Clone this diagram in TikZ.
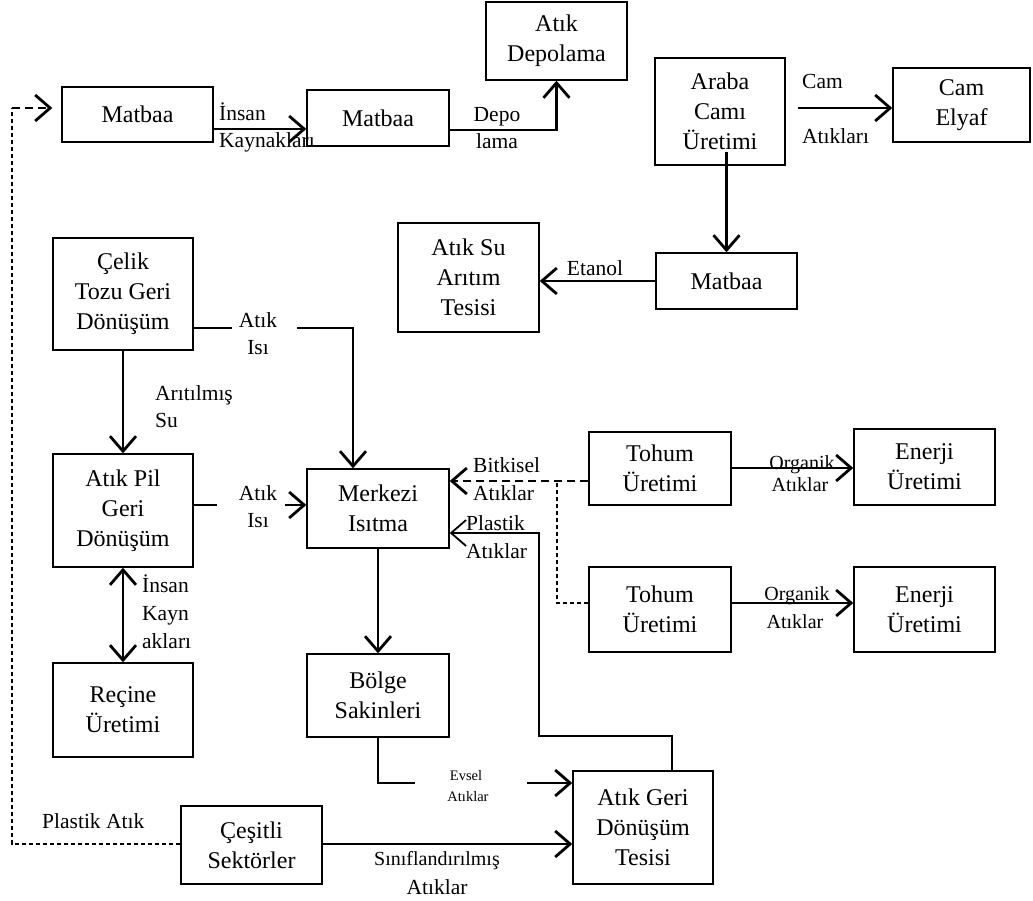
\documentclass[tikz,border=0pt]{standalone}
\usepackage{fontspec}
\setmainfont{Liberation Serif}
\usetikzlibrary{arrows.meta}
\begin{document}
\begin{tikzpicture}[x=1pt,y=-1pt,
  box/.style={draw,line width=1.4pt,inner sep=0pt,align=center,
    font=\fontsize{24}{30}\selectfont},
  wh/.style 2 args={minimum width=#1pt,minimum height=#2pt},
  lbl/.style={inner sep=0pt,font=\fontsize{21.5}{27}\selectfont},
  slbl/.style={inner sep=0pt,font=\fontsize{20}{24}\selectfont},
  tlbl/.style={inner sep=0pt,font=\fontsize{14.5}{18}\selectfont},
  tip/.tip={Straight Barb[length=15pt,width=26pt]},
  arr/.style={line width=2.8pt,-tip},
  darr/.style={line width=2.8pt,tip-tip},
  seg/.style={line width=1.7pt},
  thinarr/.style={line width=1.8pt,-tip},
  dasharr/.style={line width=2.8pt,dash pattern=on 8pt off 5pt,-tip},
  dashthin/.style={line width=1.1pt,dash pattern=on 4pt off 3pt}
]
\useasboundingbox (0,0) rectangle (1033,900);

% boxes
\node[box,wh={151}{55}]  (mat1)    at (137.5,114.5) {Matbaa};
\node[box,wh={142}{56}]  (mat2)    at (378,118)     {Matbaa};
\node[box,wh={141}{78}]  (depo)    at (556.5,41)    {Atık\\Depolama};
\node[box,wh={130}{107}] (araba)   at (720,111.5)   {Araba\\Camı\\Üretimi};
\node[box,wh={137}{74}]  (elyaf)   at (961.5,105)   {Cam\\Elyaf};
\node[box,wh={141}{56}]  (mat3)    at (726.5,281)   {Matbaa};
\node[box,wh={141}{109}] (su)      at (468.5,277.5) {Atık Su\\Arıtım\\Tesisi};
\node[box,wh={140}{112}] (celik)   at (123,294)     {Çelik\\Tozu Geri\\Dönüşüm};
\node[box,wh={140}{113}] (pil)     at (123,510.5)   {Atık Pil\\Geri\\Dönüşüm};
\node[box,wh={140}{94}]  (recine)  at (123,710)     {Reçine\\Üretimi};
\node[box,wh={142}{79}]  (merkezi) at (378,508.5)   {Merkezi\\Isıtma};
\node[box,wh={142}{73}]  (tohum1)  at (660,468.5)   {Tohum\\Üretimi};
\node[box,wh={141}{76}]  (enerji1) at (924.5,467)   {Enerji\\Üretimi};
\node[box,wh={142}{85}]  (tohum2)  at (660,609.5)   {Tohum\\Üretimi};
\node[box,wh={141}{85}]  (enerji2) at (924.5,609.5) {Enerji\\Üretimi};
\node[box,wh={142}{83}]  (bolge)   at (378,695.5)   {Bölge\\Sakinleri};
\node[box,wh={140}{113}] (agd)     at (643,827.5)   {Atık Geri\\Dönüşüm\\Tesisi};
\node[box,wh={141}{78}]  (ces)     at (251.5,845)   {Çeşitli\\Sektörler};

% top row
\draw[arr] (mat1.east |- 0,129) -- (mat2.west |- 0,129);
\node[lbl,anchor=base west] (l1a) at (219,120) {İnsan};
\node[lbl,anchor=base west] (l1b) at (219,147) {Kaynakları};

\draw[arr] (mat2.east |- 0,130) -| (depo.south);
\node[lbl,anchor=base] (l2a) at (497,121) {Depo};
\node[lbl,anchor=base] (l2b) at (497,148) {lama};

\draw[arr] ([xshift=12pt]araba.east |- 0,108) -- (elyaf.west |- 0,108);
\node[lbl,anchor=base west] (l3a) at (802,88)  {Cam};
\node[lbl,anchor=base west] (l3b) at (802,143) {Atıkları};

\draw[arr] (mat3.north |- 0,152) -- (mat3.north);

\draw[arr] (mat3.west) -- (su.east |- mat3.west);
\node[lbl,anchor=base] (l4) at (595,275) {Etanol};

% left column
\draw[seg] (celik.east |- 0,328) -- (232,328);
\draw[arr] (297,328) -| (353,0 |- merkezi.north);
\node[lbl,anchor=base] (l5a) at (258,327) {Atık};
\node[lbl,anchor=base] (l5b) at (258,354) {Isı};

\draw[arr] (celik.south) -- (pil.north);
\node[lbl,anchor=base west] (l6a) at (155,400) {Arıtılmış};
\node[lbl,anchor=base west] (l6b) at (155,427) {Su};

\draw[seg] (pil.east |- 0,505) -- (217,505);
\draw[arr] (285,505) -- (merkezi.west |- 0,505);
\node[lbl,anchor=base] (l7a) at (258,500) {Atık};
\node[lbl,anchor=base] (l7b) at (258,527) {Isı};

\draw[darr] (pil.south) -- (recine.north);
\node[lbl,anchor=base west] (l8a) at (142,592) {İnsan};
\node[lbl,anchor=base west] (l8b) at (142,620) {Kayn};
\node[lbl,anchor=base west] (l8c) at (142,648) {akları};

% centre
\draw[arr] (merkezi.south) -- (bolge.north);

\draw[dasharr] (tohum1.west |- 0,481) -- (merkezi.east |- 0,481);
\draw[dashthin] (tohum2.west |- 0,603) -| (557,481);
\node[lbl,anchor=base west] (l9a) at (473,472) {Bitkisel};
\node[lbl,anchor=base west] (l9b) at (473,500) {Atıklar};

\draw[thinarr] (672,0 |- agd.north) -- (672,736) -| (539,533) -- (merkezi.east |- 0,533);
\node[lbl,anchor=base west] (l10a) at (466,530) {Plastik};
\node[lbl,anchor=base west] (l10b) at (466,558) {Atıklar};

% right
\draw[arr] (tohum1.east |- 0,468) -- (enerji1.west |- 0,468);
\node[slbl,anchor=base] (l11a) at (802,469) {Organik};
\node[slbl,anchor=base] (l11b) at (800,491) {Atıklar};

\draw[arr] (tohum2.east |- 0,603) -- (enerji2.west |- 0,603);
\node[slbl,anchor=base] (l12a) at (797,600) {Organik};
\node[slbl,anchor=base] (l12b) at (795,628) {Atıklar};

% bottom
\draw[seg] (bolge.south) |- (415,783);
\draw[arr] (527,783) -- (agd.west |- 0,783);
\node[tlbl,anchor=base] (l13a) at (466,780) {Evsel};
\node[tlbl,anchor=base] (l13b) at (468,801) {Atıklar};

\draw[arr] (ces.east |- 0,844) -- (agd.west |- 0,844);
\node[slbl,anchor=base] (l14a) at (437,865) {Sınıflandırılmış};
\node[lbl,anchor=base] (l14b) at (437,894) {Atıklar};

\coordinate (pc) at (12,108);
\draw[dashthin] (ces.west |- 0,844) -| (pc);
\draw[dasharr,shorten >=9pt] (pc) -- (mat1.west |- pc);
\node[lbl,anchor=base west] (l15) at (42,828) {Plastik Atık};
\end{tikzpicture}
\end{document}
